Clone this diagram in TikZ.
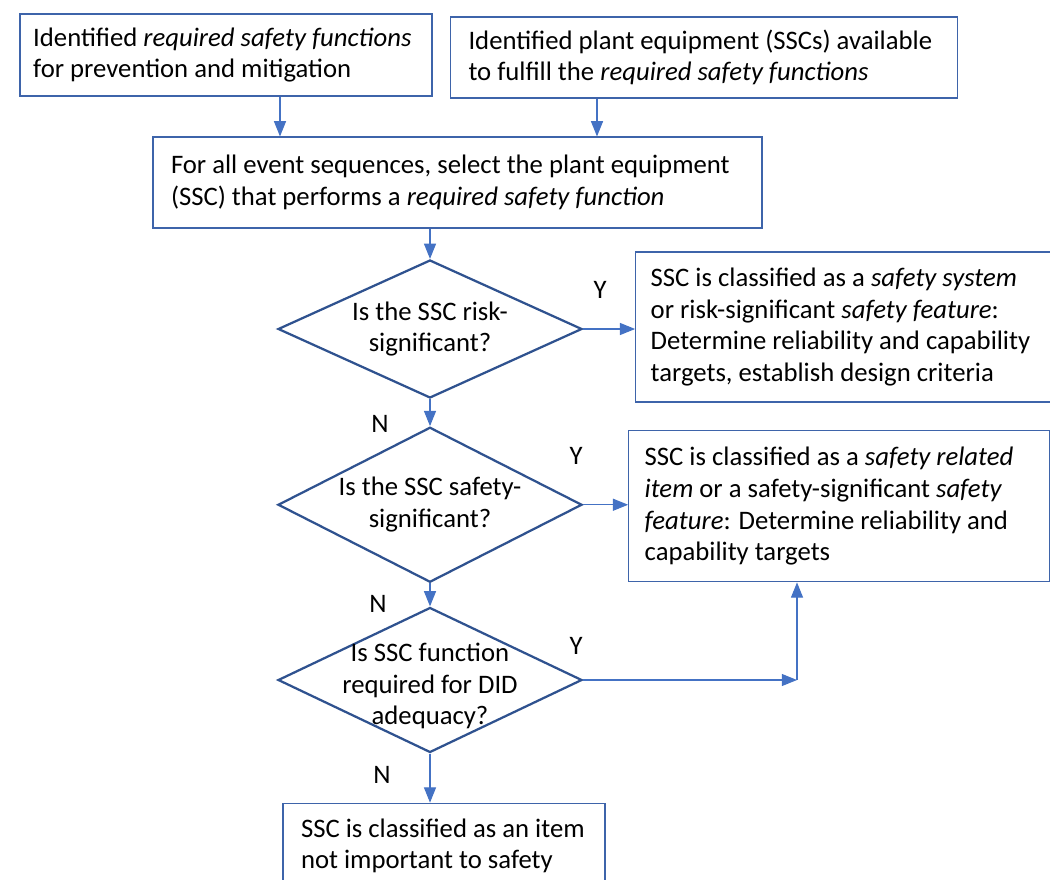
\documentclass[tikz,border=0pt]{standalone}
\usepackage{fontspec}
\setmainfont{Carlito}
\usetikzlibrary{arrows.meta, positioning, shapes.geometric}
\definecolor{boxblue}{RGB}{62,100,170}
\definecolor{diablue}{RGB}{47,82,143}
\definecolor{arrblue}{RGB}{68,114,196}

\begin{document}
\begin{tikzpicture}[
    font=\fontsize{19}{22.5}\selectfont,
    box/.style={rectangle, draw=boxblue, line width=0.8pt, align=flush left, inner xsep=0.45cm, inner ysep=0pt},
    decision/.style={diamond, draw=diablue, line width=1.6pt, inner sep=0pt, minimum width=7.6cm},
    qtext/.style={align=flush center, text width=5.6cm},
    arrow/.style={draw=arrblue, line width=0.8pt, -{Triangle[length=0.38cm, width=0.3cm]}},
    yn/.style={inner sep=0pt}
]
\useasboundingbox (0,0) rectangle (26.25,-21.975);
% Input boxes
\node[box, inner xsep=0.33cm, minimum width=10.3cm, minimum height=2.05cm, text width=9.64cm] (needs) at (5.65,-1.375)
    {Identified \textit{required safety functions}\\for prevention and mitigation};
\node[box, minimum width=12.675cm, minimum height=2.025cm, text width=11.775cm] (avail) at (17.6,-1.4375)
    {Identified plant equipment (SSCs) available\\to fulfill the \textit{required safety functions}};
\node[box, minimum width=15.225cm, minimum height=2.275cm, text width=14.325cm] (select) at (11.4375,-4.5625)
    {For all event sequences, select the plant equipment\\(SSC) that performs a \textit{required safety function}};
% Decisions
\node[decision, minimum height=3.45cm, label={[qtext]center:Is the SSC risk-\\significant?}] (risk) at (10.75,-8.225) {};
\node[decision, minimum height=3.875cm, below=0.675cm of risk, label={[qtext]center:Is the SSC safety-\\significant?}] (safe) {};
\node[decision, minimum height=3.625cm, below=0.575cm of safe, label={[qtext, yshift=-0.15cm]center:Is SSC function\\required for DID\\adequacy?}] (did) {};
% Outcomes
\node[box, inner xsep=0.375cm, minimum width=10.375cm, minimum height=3.75cm, text width=9.625cm, right=1.3cm of risk, yshift=0.05cm] (sysbox)
    {SSC is classified as a \textit{safety system}\\or risk-significant \textit{safety feature}:\\Determine reliability and capability\\targets, establish design criteria};
\node[box, inner xsep=0.4cm, minimum width=10.525cm, minimum height=3.775cm, text width=9.725cm, right=1.125cm of safe, yshift=-0.04cm] (relbox)
    {SSC is classified as a \textit{safety related}\\\textit{item} or a safety-significant \textit{safety}\\\textit{feature}: Determine reliability and\\capability targets};
\node[box, inner xsep=0.45cm, minimum width=8.05cm, minimum height=2.125cm, text width=7.15cm, below=1.225cm of did, xshift=0.35cm] (nits)
    {SSC is classified as an item\\not important to safety};
% Y / N labels
\node[yn] (y1) at (15.0,-7.25) {Y};
\node[yn] (n1) at (9.5,-10.6) {N};
\node[yn] (y2) at (14.4,-11.4) {Y};
\node[yn] (n2) at (9.45,-15.1) {N};
\node[yn] (y3) at (14.4,-16.15) {Y};
\node[yn] (n3) at (9.55,-19.375) {N};
% Arrows
\coordinate (in1) at (7.0,0);
\coordinate (in2) at (14.925,0);
\coordinate (elbow) at (19.925,-16.9);
\draw[arrow] (needs.south -| in1) -- (select.north -| in1);
\draw[arrow] (avail.south -| in2) -- (select.north -| in2);
\draw[arrow] (select.south -| risk) -- (risk.north);
\draw[arrow] (risk.east) -- (risk.east -| sysbox.west);
\draw[arrow] (risk.south) -- (safe.north);
\draw[arrow] (safe.east) -- (safe.east -| relbox.west);
\draw[arrow] (safe.south) -- (did.north);
\draw[arrow] (did.east) -- (did.east -| elbow);
\draw[arrow] (did.east -| elbow) -- (elbow |- relbox.south);
\draw[arrow] (did.south) -- (did.south |- nits.north);
\end{tikzpicture}
\end{document}
